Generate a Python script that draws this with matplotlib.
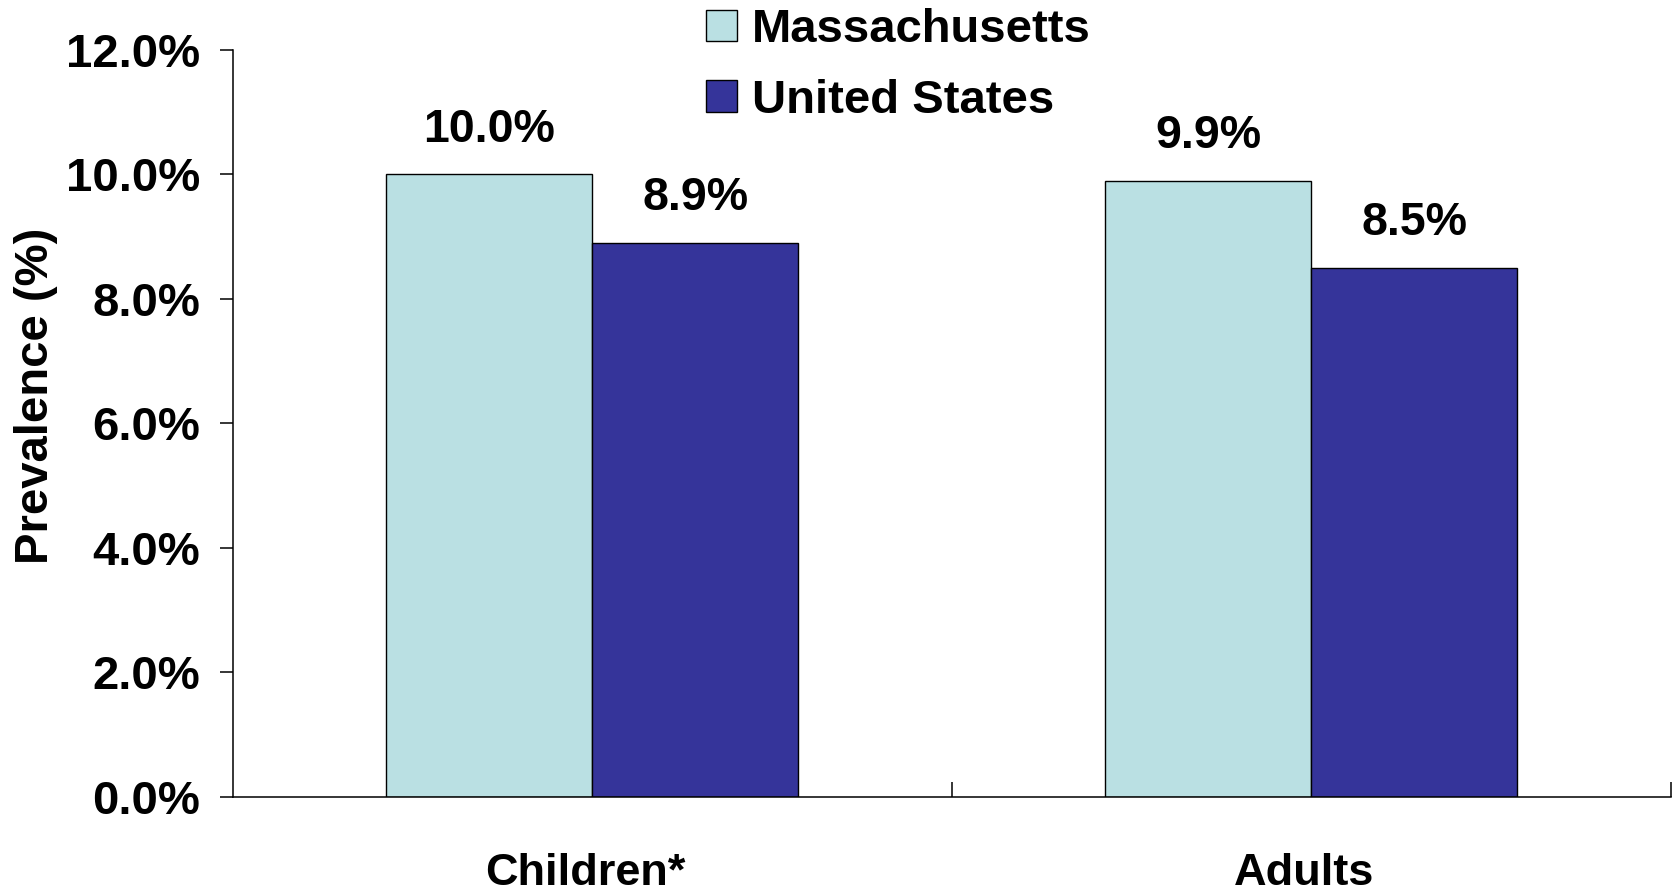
import matplotlib
matplotlib.use("Agg")
import matplotlib.pyplot as plt
import numpy as np
from matplotlib.patches import Patch

categories = ["Children*", "Adults"]
series_names = ["Massachusetts", "United States"]
ma_values = [10.0, 9.9]
us_values = [8.9, 8.5]
value_labels_ma = ["10.0%", "9.9%"]
value_labels_us = ["8.9%", "8.5%"]
yticks = [0, 2, 4, 6, 8, 10, 12]
ytick_labels = ["0.0%", "2.0%", "4.0%", "6.0%", "8.0%", "10.0%", "12.0%"]

colors = ["#BAE0E3", "#35349A"]

plt.rcParams['font.family'] = ['Liberation Sans', 'DejaVu Sans']
plt.rcParams['font.weight'] = 'bold'

fig = plt.figure(figsize=(16.73, 8.91), dpi=100)
ax = fig.add_axes([0.139, 0.1055, 0.8598, 0.8384])

x = np.arange(len(categories))
w = 0.2865
b1 = ax.bar(x - w / 2, ma_values, w, color=colors[0], edgecolor='black', linewidth=1.0)
b2 = ax.bar(x + w / 2, us_values, w, color=colors[1], edgecolor='black', linewidth=1.0)

for rect, lab in zip(list(b1) + list(b2), value_labels_ma + value_labels_us):
    ax.annotate(lab, (rect.get_x() + rect.get_width() / 2, rect.get_height()),
                xytext=(0, 23.5), textcoords='offset points', ha='center', va='baseline',
                fontsize=33.5, fontweight='bold')

ax.set_xlim(-0.5, 1.5)
ax.set_ylim(0, 12)
ax.set_yticks(yticks)
ax.set_yticklabels(ytick_labels, fontsize=34, fontweight='bold')
ax.tick_params(axis='y', direction='out', length=9.5, width=1.1, pad=14)

ax.set_xticks([0.5, 1.5])
ax.set_xticklabels([])
ax.tick_params(axis='x', direction='in', length=11, width=1.1)
for xi, cat in zip(x, categories):
    ax.text(xi - 0.01, -0.9, cat, ha='center', va='top', fontsize=32.5, fontweight='bold',
            transform=ax.transData)

ax.spines['top'].set_visible(False)
ax.spines['right'].set_visible(False)
ax.spines['left'].set_linewidth(1.1)
ax.spines['bottom'].set_linewidth(1.1)

ax.set_ylabel("Prevalence (%)", fontsize=34, fontweight='bold')
ax.yaxis.set_label_coords(-0.121, 0.537, transform=ax.transAxes)

handles = [Patch(facecolor=colors[0], edgecolor='black', linewidth=1.0),
           Patch(facecolor=colors[1], edgecolor='black', linewidth=1.0)]
fig.legend(handles, series_names, loc='upper left', bbox_to_anchor=(0.402, 1.028),
           frameon=False, prop={'weight': 'bold', 'size': 34},
           handlelength=0.66, handleheight=0.66, handletextpad=0.32, labelspacing=0.56,
           borderpad=0.2)

fig.savefig("out.png", dpi=100)
